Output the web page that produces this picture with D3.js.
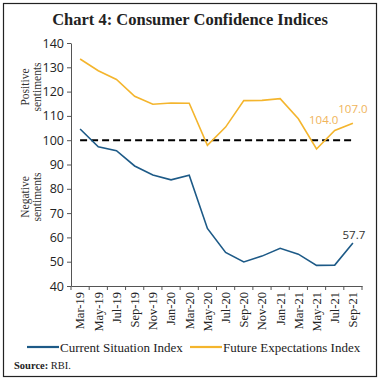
<!DOCTYPE html>
<html>
<head>
<meta charset="utf-8">
<script src="https://cdn.jsdelivr.net/npm/d3@7"></script>
<style>
  body { margin: 0; background: #fff; }
  svg text { fill: #222; }
</style>
</head>
<body>
<div id="chart"></div>
<script>
// data
const months = ["Mar-19", "May-19", "Jul-19", "Sep-19", "Nov-19", "Jan-20", "Mar-20", "May-20",
                "Jul-20", "Sep-20", "Nov-20", "Jan-21", "Mar-21", "May-21", "Jul-21", "Sep-21"]
const currentSituation = [104.6, 97.3, 95.7, 89.4, 85.7, 83.7, 85.6, 63.7,
                          53.8, 49.9, 52.3, 55.5, 53.1, 48.5, 48.6, 57.7]
const futureExpectations = [133.4, 128.6, 125.0, 118.1, 114.8, 115.3, 115.2, 97.9,
                            105.4, 116.3, 116.4, 117.1, 108.8, 96.4, 104.0, 107.0]
const yTicks = [40, 50, 60, 70, 80, 90, 100, 110, 120, 130, 140]
const seriesNames = ["Current Situation Index", "Future Expectations Index"]

const W = 380, H = 380
const margin = {top: 43, right: 18, bottom: 94, left: 71}
const width = W - margin.left - margin.right
const height = H - margin.top - margin.bottom

const blue = "#1d5a87", orange = "#f4b52d"

let svg = d3.select("#chart").append("svg")
  .attr("width", W).attr("height", H)

// outer frame
svg.append("rect")
  .attr("x", 3.5).attr("y", 3.5).attr("width", W - 7).attr("height", H - 7)
  .attr("fill", "none").attr("stroke", "#222").attr("stroke-width", 1.2)

svg.append("text")
  .attr("x", W / 2).attr("y", 25)
  .attr("text-anchor", "middle")
  .style("font-family", "'Liberation Serif', serif")
  .style("font-weight", "bold")
  .style("font-size", "16.5px")
  .text("Chart 4: Consumer Confidence Indices")

let g = svg.append("g")
  .attr("transform", "translate(" + margin.left + "," + margin.top + ")")

let x = d3.scaleBand().domain(months).range([0, width])
let y = d3.scaleLinear().domain([40, 140]).range([height, 0])
let cx = d => x(d) + x.bandwidth() / 2

// Y axis
let yAxis = g.append("g")
  .call(d3.axisLeft(y).tickValues(yTicks).tickSize(4).tickSizeOuter(0))
yAxis.select(".domain").attr("stroke", "#555")
yAxis.selectAll(".tick line").attr("stroke", "#555")
yAxis.selectAll("text")
  .style("font-family", "'Open Sans', sans-serif")
  .style("font-size", "12.5px")
  .attr("fill", "#333")

// X axis
let xAxis = g.append("g")
  .attr("transform", "translate(0," + height + ")")
  .call(d3.axisBottom(x).tickSize(4).tickSizeOuter(0))
xAxis.select(".domain").attr("stroke", "#555")
xAxis.selectAll(".tick line")
  .attr("stroke", "#555")
  .attr("transform", "translate(" + (-x.bandwidth() / 2) + ",0)")
g.append("line")
  .attr("x1", width).attr("x2", width).attr("y1", height).attr("y2", height + 4)
  .attr("stroke", "#555")
xAxis.selectAll("text")
  .attr("transform", "rotate(-90)")
  .attr("x", -6).attr("y", 0).attr("dy", "0.35em")
  .style("text-anchor", "end")
  .style("font-family", "'Liberation Serif', serif")
  .style("font-size", "12.5px")
  .attr("fill", "#333")

// reference line at 100
g.append("line")
  .attr("x1", cx(months[0])).attr("x2", cx(months[months.length - 1]))
  .attr("y1", y(100)).attr("y2", y(100))
  .attr("stroke", "#000").attr("stroke-width", 2)
  .attr("stroke-dasharray", "7,4")

let line = d3.line().x((d, i) => cx(months[i])).y(d => y(d))

g.append("path").datum(futureExpectations)
  .attr("d", line).attr("fill", "none")
  .attr("stroke", orange).attr("stroke-width", 1.6)

g.append("path").datum(currentSituation)
  .attr("d", line).attr("fill", "none")
  .attr("stroke", blue).attr("stroke-width", 1.6)

// data labels
const n = months.length
g.append("text")
  .attr("x", cx(months[n - 2]) - 11).attr("y", y(futureExpectations[n - 2]) - 6)
  .attr("text-anchor", "middle")
  .style("font-family", "'Open Sans', sans-serif").style("font-size", "11.5px")
  .style("fill", "#f0b45a")
  .text(futureExpectations[n - 2].toFixed(1))
g.append("text")
  .attr("x", cx(months[n - 1])).attr("y", y(futureExpectations[n - 1]) - 10)
  .attr("text-anchor", "middle")
  .style("font-family", "'Open Sans', sans-serif").style("font-size", "11.5px")
  .style("fill", "#f0b45a")
  .text(futureExpectations[n - 1].toFixed(1))
g.append("text")
  .attr("x", cx(months[n - 1]) + 1).attr("y", y(currentSituation[n - 1]) - 4)
  .attr("text-anchor", "middle")
  .style("font-family", "'Open Sans', sans-serif").style("font-size", "11.5px")
  .style("fill", "#333")
  .text(currentSituation[n - 1].toFixed(1))

// side labels
const sideLabels = [["Positive", "sentiments", 87], ["Negative", "sentiments", 197]]
sideLabels.forEach(([a, b, cy]) => {
  let t = svg.append("text")
    .attr("transform", "translate(29," + cy + ") rotate(-90)")
    .attr("text-anchor", "middle")
    .style("font-family", "'Liberation Serif', serif")
    .style("font-size", "11.5px")
    .style("fill", "#333")
  t.append("tspan").attr("x", 0).attr("dy", 0).text(a)
  t.append("tspan").attr("x", 0).attr("dy", "1.0em").text(b)
})

// legend
const legendItems = [[seriesNames[0], blue, 27], [seriesNames[1], orange, 190]]
legendItems.forEach(([name, c, lx]) => {
  svg.append("line")
    .attr("x1", lx).attr("x2", lx + 32).attr("y1", 347).attr("y2", 347)
    .attr("stroke", c).attr("stroke-width", 2.2)
  svg.append("text")
    .attr("x", lx + 33).attr("y", 351.5)
    .style("font-family", "'Liberation Serif', serif")
    .style("font-size", "13px")
    .text(name)
})

let src = svg.append("text")
  .attr("x", 14).attr("y", 369)
  .style("font-family", "'Liberation Serif', serif")
  .style("font-size", "10.5px")
src.append("tspan").style("font-weight", "bold").text("Source: ")
src.append("tspan").text("RBI.")
</script>
</body>
</html>
